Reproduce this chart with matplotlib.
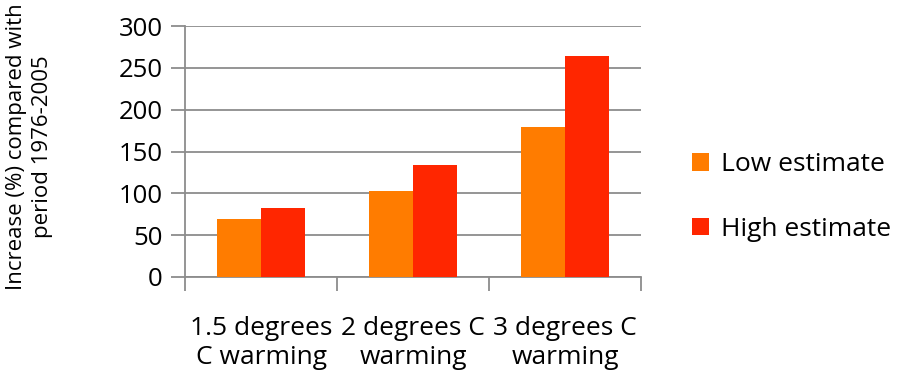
import matplotlib
matplotlib.use("Agg")
import matplotlib.pyplot as plt
import numpy as np

categories = ["1.5 degrees\nC warming", "2 degrees C\nwarming", "3 degrees C\nwarming"]
low_estimate = [69, 103, 179]
high_estimate = [83, 134, 264]
series_names = ["Low estimate", "High estimate"]
y_ticks = [0, 50, 100, 150, 200, 250, 300]

plt.rcParams['font.family'] = ['Open Sans', 'DejaVu Sans']

fig = plt.figure(figsize=(9.05, 3.75), dpi=100)
ax = fig.add_axes([185 / 905, 1 - 277 / 375, 456 / 905, 251 / 375])

x = np.arange(len(categories))
bw = 0.287
grid_c = "#8c8c8c"
ax.bar(x - bw / 2, low_estimate, bw, color="#FF7C00", label=series_names[0], zorder=3)
ax.bar(x + bw / 2, high_estimate, bw, color="#FF2600", label=series_names[1], zorder=3)

ax.set_xlim(-0.5, 2.5)
ax.set_ylim(0, 300)
ax.set_yticks(y_ticks)
ax.yaxis.grid(True, color=grid_c, linewidth=1.3, zorder=0)
ax.set_axisbelow(True)

ax.set_xticks([-0.5, 0.5, 1.5, 2.5])
ax.set_xticklabels([])
ax.set_xticks(x, minor=True)
ax.set_xticklabels(categories, minor=True, fontsize=19, linespacing=1.2)
ax.tick_params(axis="x", which="minor", length=0, pad=28)
ax.tick_params(axis="x", which="major", length=10, width=1.3, color=grid_c, direction="out")
ax.tick_params(axis="y", length=10, width=1.3, color=grid_c, labelsize=18.5, pad=6)

for s in ["top", "right"]:
    ax.spines[s].set_visible(False)
for s in ["left", "bottom"]:
    ax.spines[s].set_color(grid_c)
    ax.spines[s].set_linewidth(1.3)

fig.text(0.033, 1 - 147 / 375, "Increase (%) compared with\nperiod 1976-2005", rotation=90,
         ha="center", va="center", fontsize=16, linespacing=1.3)

leg = fig.legend(loc="center left", bbox_to_anchor=(0.738, 0.475), frameon=False,
                 fontsize=19, handlelength=0.65, handleheight=0.65, handletextpad=0.45,
                 labelspacing=1.5)

fig.savefig("out.png", dpi=100)
